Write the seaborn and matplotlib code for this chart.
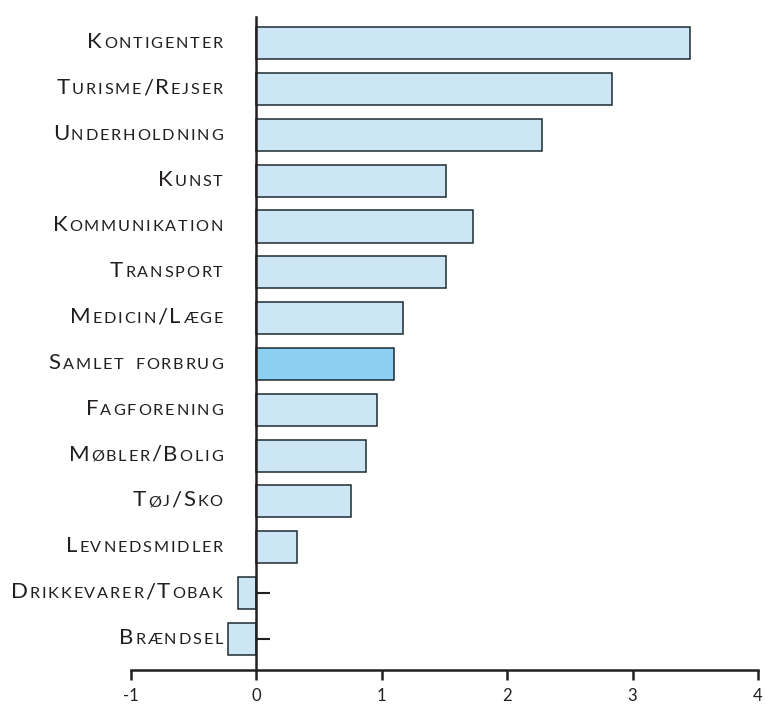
import seaborn as sns
import pandas as pd
import matplotlib.pyplot as plt
from matplotlib.offsetbox import TextArea, HPacker, AnnotationBbox

categories = [
    "Kontigenter", "Turisme/Rejser", "Underholdning", "Kunst",
    "Kommunikation", "Transport", "Medicin/Læge", "Samlet forbrug",
    "Fagforening", "Møbler/Bolig", "Tøj/Sko", "Levnedsmidler",
    "Drikkevarer/Tobak", "Brændsel",
]
values = [3.46, 2.84, 2.28, 1.51, 1.73, 1.51, 1.17, 1.10,
          0.96, 0.88, 0.76, 0.33, -0.14, -0.22]
highlight = "Samlet forbrug"
x_ticks = [-1, 0, 1, 2, 3, 4]

LIGHT = "#cce6f6"
DARK = "#8ecef0"
EDGE = "#1c2b30"
INK = "#231f20"
FONT = ["Lato", "DejaVu Sans"]

df = pd.DataFrame({"category": categories, "value": values})
colors = [DARK if c == highlight else LIGHT for c in categories]

fig = plt.figure(figsize=(7.65, 7.05), dpi=100)
ax = fig.add_axes([0.1706, 0.0496, 0.8203, 0.9262])

sns.barplot(
    data=df, x="value", y="category", hue="category",
    palette=colors, legend=False, width=0.7,
    edgecolor=EDGE, linewidth=1.1, saturation=1, ax=ax,
)

ax.set_xlim(-1, 4)
ax.set_ylim(len(categories) - 1 + 0.68, -0.57)
ax.set_axisbelow(True)

for side in ["top", "right"]:
    ax.spines[side].set_visible(False)
ax.spines["left"].set_position(("data", 0))
ax.spines["left"].set_linewidth(1.8)
ax.spines["left"].set_color(INK)
ax.spines["bottom"].set_linewidth(1.8)
ax.spines["bottom"].set_color(INK)
ax.spines["bottom"].set_bounds(-1, 4)

ax.set_xticks(x_ticks)
ax.set_xticklabels([str(t) for t in x_ticks], family=FONT, fontsize=12, color=INK)
ax.tick_params(axis="x", direction="out", length=7, width=1.8, color=INK, pad=6)
ax.tick_params(axis="y", direction="in", length=10, width=1.5, color=INK, labelleft=False)
ax.set_xlabel("")
ax.set_ylabel("")


def small_caps(label, big=16, small=11.7, track=1.3):
    parts = []
    for ch in label:
        if ch.isalpha() and ch.islower():
            txt, size = ch.upper(), small
        else:
            txt, size = ch, big
        if ch == " ":
            txt, size = "\u2002", small
        parts.append(TextArea(txt, textprops=dict(fontsize=size, family=FONT, color=INK)))
    return HPacker(children=parts, align="baseline", pad=0, sep=track)


for i, name in enumerate(categories):
    ab = AnnotationBbox(
        small_caps(name), xy=(0, i), xycoords="data",
        xybox=(-24, 0), boxcoords="offset points",
        box_alignment=(1, 0.45), frameon=False, pad=0,
        annotation_clip=False,
    )
    ax.add_artist(ab)

fig.savefig("out.png", dpi=100)
